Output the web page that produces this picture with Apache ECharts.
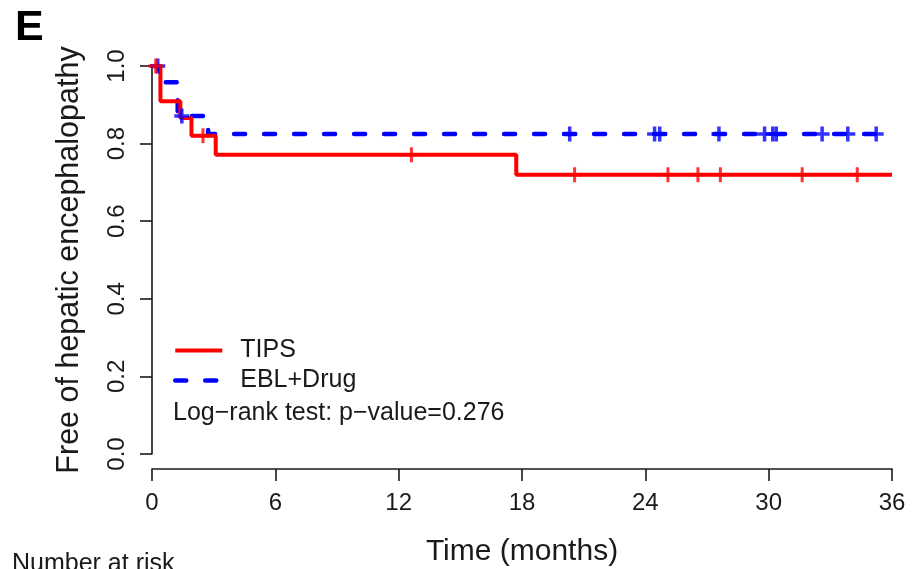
<!DOCTYPE html>
<html>
<head>
<meta charset="utf-8">
<script src="https://cdn.jsdelivr.net/npm/echarts@6/dist/echarts.min.js"></script>
<style>
html,body{margin:0;padding:0;background:#fff;}
#chart{width:912px;height:569px;}
</style>
</head>
<body>
<div id="chart"></div>
<script>
// ---- data ----
const seriesNames = ['TIPS', 'EBL+Drug'];
// TIPS Kaplan-Meier step points (time in months, survival)
const tipsTimes = [0, 0.41, 1.38, 1.92, 3.1, 17.72, 36];
const tipsSurv  = [1, 0.909, 0.866, 0.82, 0.771, 0.72, 0.72];
const tipsCensorTimes = [0.18, 2.48, 12.62, 20.56, 25.1, 26.56, 27.65, 31.63, 34.31];
const tipsCensorSurv  = [1, 0.82, 0.771, 0.72, 0.72, 0.72, 0.72, 0.72, 0.72];
// EBL+Drug
const eblTimes = [0, 0.36, 1.25, 2.73, 36];
const eblSurv  = [1, 0.958, 0.871, 0.825, 0.825];
const eblCensorTimes = [0.28, 1.45, 20.32, 24.45, 24.7, 27.58, 29.8, 30.2, 30.37, 32.6, 33.85, 35.23];
const eblCensorSurv  = [1, 0.871, 0.825, 0.825, 0.825, 0.825, 0.825, 0.825, 0.825, 0.825, 0.825, 0.825];
// axes
const xTickValues = [0, 6, 12, 18, 24, 30, 36];
const yTickLabels = ['0.0', '0.2', '0.4', '0.6', '0.8', '1.0'];
const xTitle = 'Time (months)';
const yTitle = 'Free of hepatic encephalopathy';
const pText = 'Log\u2212rank test: p\u2212value=0.276';
const panelLabel = 'E';
const riskLabel = 'Number at risk';

const FONT = "'Liberation Sans', Arial, sans-serif";
const INK = '#1a1a1a';

function zip(a, b) { return a.map((v, i) => [v, b[i]]); }

const plusPath = (t) => {
  const a = (15 - t) / 2;
  return `path://M${a},0h${t}v${a}h${a}v${t}h-${a}v${a}h-${t}v-${a}h-${a}v-${t}h${a}z`;
};

const chart = echarts.init(document.getElementById('chart'), null, {renderer: 'canvas'});
chart.setOption({
  animation: false,
  backgroundColor: '#ffffff',
  grid: {left: 152, right: 20, top: 66, bottom: 115, containLabel: false, outerBoundsMode: 'none'},
  xAxis: {
    type: 'value', min: 0, max: 36, interval: 6,
    offset: 15,
    name: xTitle, nameLocation: 'middle', nameGap: 68,
    nameTextStyle: {fontFamily: FONT, fontSize: 30, color: INK},
    axisLine: {show: true, onZero: false, lineStyle: {color: INK, width: 1.6}},
    axisTick: {show: true, length: 12, lineStyle: {color: INK, width: 1.6}},
    axisLabel: {margin: 22, fontFamily: FONT, fontSize: 24, color: INK,
      formatter: v => xTickValues.indexOf(v) >= 0 ? String(v) : ''},
    splitLine: {show: false}
  },
  yAxis: {
    type: 'value', min: 0, max: 1, interval: 0.2,
    name: yTitle, nameLocation: 'middle', nameGap: 67, nameRotate: 90,
    nameTextStyle: {fontFamily: FONT, fontSize: 30.5, color: INK},
    axisLine: {show: true, onZero: false, lineStyle: {color: INK, width: 1.6}},
    axisTick: {show: true, length: 12, lineStyle: {color: INK, width: 1.6}},
    axisLabel: {rotate: 90, margin: 23, fontFamily: FONT, fontSize: 24, color: INK,
      formatter: v => yTickLabels[Math.round(v * 5)]},
    splitLine: {show: false}
  },
  legend: {
    data: [
      {name: seriesNames[0], lineStyle: {width: 4, color: '#ff0000'}},
      {name: seriesNames[1], lineStyle: {width: 4.5, color: '#0000ff', type: [11, 19], cap: 'round'}}
    ],
    orient: 'vertical',
    left: 173, top: 338, padding: 0,
    itemWidth: 47, itemHeight: 14, itemGap: 5,
    itemStyle: {opacity: 0, borderWidth: 0},
    textStyle: {fontFamily: FONT, fontSize: 25, color: INK, padding: [0, 0, 0, 13]},
    selectedMode: false
  },
  series: [
    {
      name: 'EBL+Drug', type: 'line', step: 'end', symbol: 'none',
      data: zip(eblTimes, eblSurv),
      color: '#0000ff',
      lineStyle: {color: '#0000ff', width: 4.5, type: [11, 19], cap: 'round'},
      z: 2
    },
    {
      name: 'TIPS', type: 'line', step: 'end', symbol: 'none',
      data: zip(tipsTimes, tipsSurv),
      color: '#ff0000',
      lineStyle: {color: '#ff0000', width: 4, type: 'solid'},
      z: 3
    },
    {
      name: 'EBL+Drug censored', type: 'scatter',
      data: zip(eblCensorTimes, eblCensorSurv),
      symbol: plusPath(3.5), symbolSize: 15,
      itemStyle: {color: '#0000ff'}, z: 4
    },
    {
      name: 'TIPS censored', type: 'scatter',
      data: zip(tipsCensorTimes, tipsCensorSurv),
      symbol: plusPath(3), symbolSize: 15,
      itemStyle: {color: '#ff0000'}, z: 5
    }
  ],
  graphic: [
    {type: 'text', left: 15, top: 7,
      style: {text: panelLabel, font: `bold 43px ${FONT}`, fill: '#000'}},
    {type: 'text', left: 173, top: 401,
      style: {text: pText, font: `25px ${FONT}`, fill: INK}},
    {type: 'text', left: 12, top: 552,
      style: {text: riskLabel, font: `25px ${FONT}`, fill: INK}}
  ]
});
</script>
</body>
</html>
